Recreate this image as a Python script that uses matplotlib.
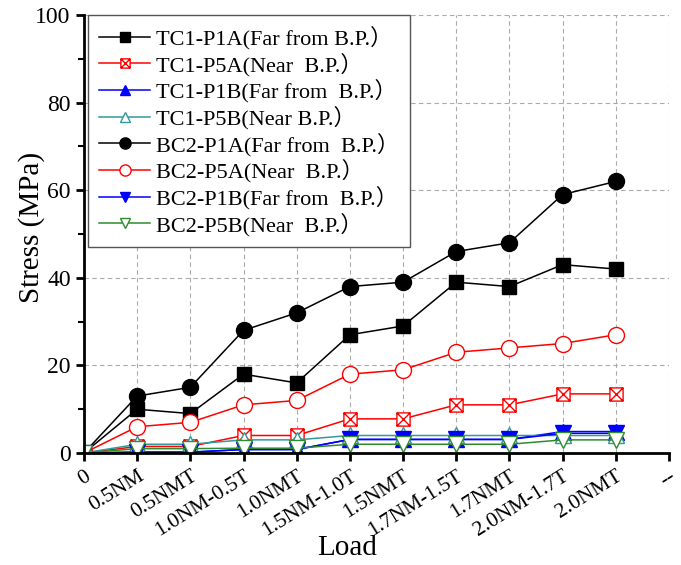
import matplotlib
matplotlib.use("Agg")
import matplotlib.pyplot as plt
from matplotlib.path import Path
from matplotlib.ticker import MultipleLocator

plt.rcParams["font.family"] = ["Liberation Serif", "Noto Sans CJK SC"]

loads = ["0", "0.5NM", "0.5NMT", "1.0NM-0.5T", "1.0NMT", "1.5NM-1.0T",
         "1.5NMT", "1.7NM-1.5T", "1.7NMT", "2.0NM-1.7T", "2.0NMT", "--"]

tc1_p1a = [0, 10, 9, 18, 16, 27, 29, 39, 38, 43, 42]
tc1_p5a = [0, 1.5, 1.5, 4, 4, 7.8, 7.8, 11, 11, 13.5, 13.5]
tc1_p1b = [0, 0.2, 0.2, 0.8, 0.8, 3.1, 3.1, 3.1, 3.1, 4.9, 4.9]
tc1_p5b = [0, 2, 2, 3, 3, 4, 4, 4, 4, 4, 4]
bc2_p1a = [0, 13, 15, 28, 32, 38, 39, 46, 48, 59, 62]
bc2_p5a = [0, 6, 7, 11, 12, 18, 19, 23, 24, 25, 27]
bc2_p1b = [0, 0.2, 0.2, 0.8, 0.8, 3.1, 3.1, 3.1, 3.1, 4.5, 4.5]
bc2_p5b = [0, 1, 1, 1.1, 1.1, 2, 2, 2, 2, 3, 3]

# open square with a cross inside
box_x = Path(
    [(-1, -1), (1, -1), (1, 1), (-1, 1), (-1, -1),
     (-1, -1), (1, 1), (-1, 1), (1, -1)],
    [Path.MOVETO, Path.LINETO, Path.LINETO, Path.LINETO, Path.CLOSEPOLY,
     Path.MOVETO, Path.LINETO, Path.MOVETO, Path.LINETO],
)

series = [
    ("TC1-P1A(Far from B.P.）", tc1_p1a, "black", "s", "black", 10),
    ("TC1-P5A(Near  B.P.）", tc1_p5a, "#ff0000", box_x, "white", 9.5),
    ("TC1-P1B(Far from  B.P.）", tc1_p1b, "#0000ff", "^", "#0000ff", 11),
    ("TC1-P5B(Near B.P.）", tc1_p5b, "#339999", "^", "white", 11),
    ("BC2-P1A(Far from  B.P.）", bc2_p1a, "black", "o", "black", 11.5),
    ("BC2-P5A(Near  B.P.）", bc2_p5a, "#ff0000", "o", "white", 11.5),
    ("BC2-P1B(Far from  B.P.）", bc2_p1b, "#0000ff", "v", "#0000ff", 11),
    ("BC2-P5B(Near  B.P.）", bc2_p5b, "#2e8b2e", "v", "white", 11),
]

fig = plt.figure(figsize=(6.81, 5.65), dpi=100)
ax = fig.add_axes([0.1233, 0.1982, 0.8591, 0.7753])

x = list(range(len(tc1_p1a)))
for label, vals, color, marker, face, ms in series:
    ax.plot(x, vals, color=color, linewidth=1.1, marker=marker,
            markersize=ms, markerfacecolor=face, markeredgecolor=color,
            markeredgewidth=1.0, label=label)

ax.set_xlim(0, len(loads) - 1)
ax.set_ylim(0, 100)
ax.set_xticks(range(len(loads)))
ax.set_xticklabels(loads, rotation=32, ha="right", va="top",
                   rotation_mode="anchor", fontsize=15.5)
ax.yaxis.set_major_locator(MultipleLocator(20))
ax.yaxis.set_minor_locator(MultipleLocator(10))
ax.tick_params(axis="y", labelsize=17)
ax.tick_params(which="major", direction="out", length=6, width=2)
ax.tick_params(which="minor", direction="out", length=4, width=1.5)
ax.tick_params(axis="x", pad=4)

for side in ("top", "right"):
    ax.spines[side].set_visible(False)
for side in ("left", "bottom"):
    ax.spines[side].set_linewidth(2)

ax.grid(True, which="major", linestyle=(0, (4, 3)), color="#aaaaaa",
        linewidth=0.8)
ax.set_axisbelow(True)

ax.set_xlabel("Load", fontsize=21)
ax.xaxis.label.set_va("center")
ax.xaxis.set_label_coords(0.45, -0.217)
ax.set_ylabel("Stress (MPa)", fontsize=21)
ax.yaxis.label.set_va("center")
ax.yaxis.set_label_coords(-0.09, 0.514)

leg = ax.legend(loc="upper left", bbox_to_anchor=(0.007, 1.0),
                borderaxespad=0, fontsize=16, labelspacing=0.14,
                handlelength=2.3, handletextpad=0.25, borderpad=0.5,
                markerscale=0.7, fancybox=False, framealpha=1,
                edgecolor="#555555")
leg.get_frame().set_linewidth(1.0)

fig.savefig("out.png", dpi=100)
